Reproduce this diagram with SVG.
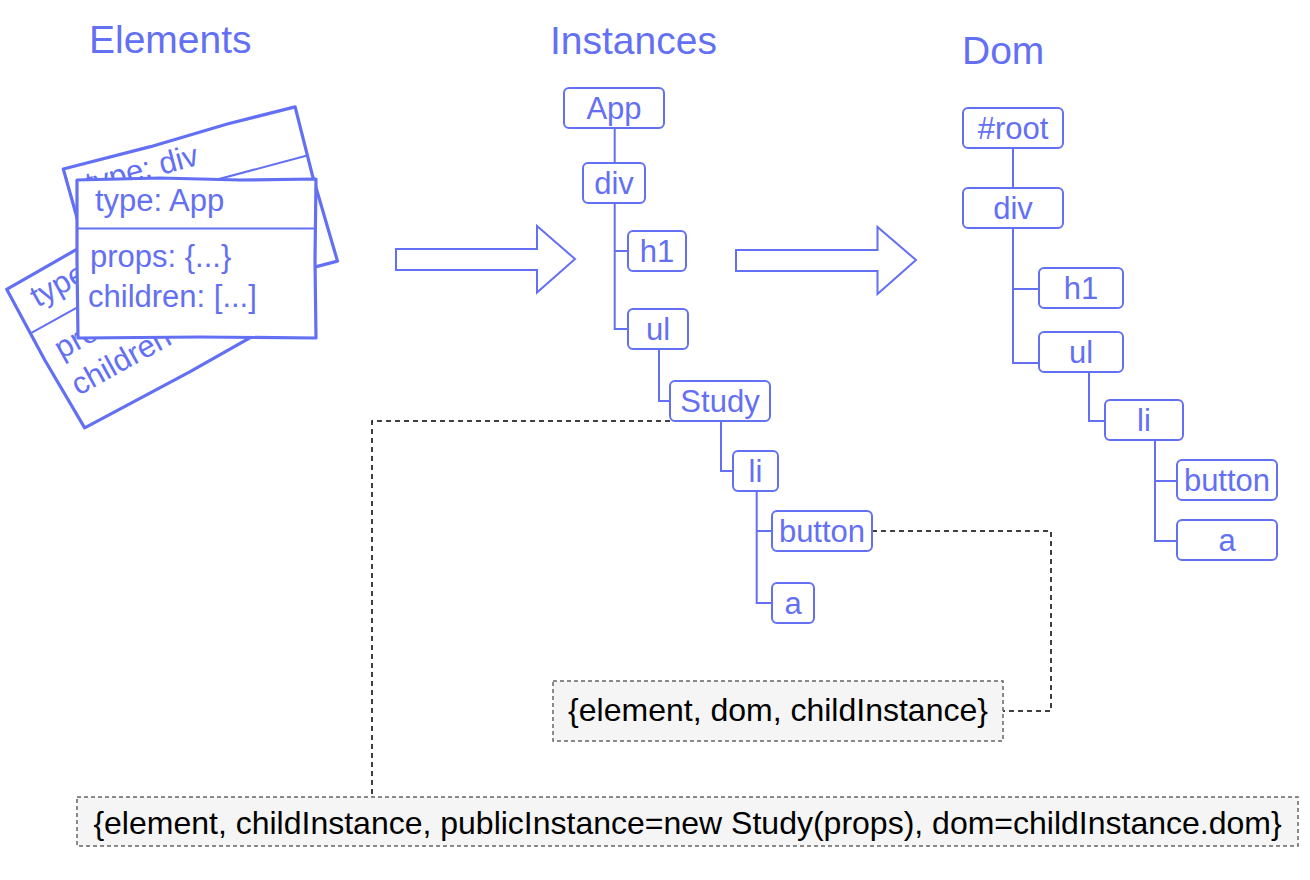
<svg xmlns="http://www.w3.org/2000/svg" width="1310" height="880" viewBox="0 0 1310 880">
<style>
.t{font-family:"Liberation Sans",Arial,Helvetica,sans-serif;fill:#6370F4}
.title{font-size:39px}
.nt{font-size:31px;text-anchor:middle}
.ct{font-size:31px}
.node{fill:#fff;stroke:#6370F4;stroke-width:2}
.tree{fill:none;stroke:#6370F4;stroke-width:2}
.card{fill:#fff;stroke:#6370F4;stroke-width:3.2;stroke-linejoin:round;stroke-linecap:round}
.cardline{fill:none;stroke:#6370F4;stroke-width:2;stroke-linecap:round}
.arrow{fill:#fff;stroke:#6370F4;stroke-width:2}
.dash{fill:none;stroke:#000;stroke-width:1.5;stroke-dasharray:5 4}
.note{fill:#f5f5f5;stroke:#666;stroke-width:1.5;stroke-dasharray:4 3}
.nl{font-family:"Liberation Sans",Arial,Helvetica,sans-serif;font-size:32px;fill:#000;text-anchor:middle}
</style>

<g id="titles">
<text class="t title" x="89" y="53">Elements</text>
<text class="t title" x="550" y="54">Instances</text>
<text class="t title" x="962" y="64">Dom</text>
</g>

<g id="card-back2" transform="translate(6.7,289.3) rotate(-29)">
<path class="card" d="M0,0 L80,-1 L160,1 L240,0 L241,80 L239,160 L120,161 L1,159 L-1,80 Z"/>
<path class="cardline" d="M0,50 L240,50"/>
<text class="t ct" x="18" y="31">type</text>
<text class="t ct" x="14" y="88">pro</text>
<text class="t ct" x="11" y="128">children</text>
</g>

<g id="card-back1" transform="translate(63.3,169) rotate(-15)">
<path class="card" d="M0,0 L90,1 L170,-1 L240,0 L239,70 L241,160 L120,159 L0,161 L1,80 Z"/>
<path class="cardline" d="M0,50 L240,50"/>
<text class="t ct" x="18" y="31">type: div</text>
</g>

<g id="card-front">
<path class="card" d="M77,180 L160,178 L240,180 L316,179 L315,260 L316,338 L200,337 L78,338 L77,260 Z"/>
<path class="cardline" d="M77,228.5 L316,228.5"/>
<text class="t ct" x="95" y="211">type: App</text>
<text class="t ct" x="90" y="267">props: {...}</text>
<text class="t ct" x="88" y="307">children: [...]</text>
</g>

<g id="arrows">
<polygon class="arrow" points="396,249 537,249 537,226 575,259 537,292.6 537,270 396,270"/>
<polygon class="arrow" points="736,250 877.5,250 877.5,227 916,260 877.5,294 877.5,271 736,271"/>
</g>

<g id="connectors">
<path class="tree" d="M614.7,128 V163"/>
<path class="tree" d="M614.7,203 V329 H628 M614.7,251 H628"/>
<path class="tree" d="M659,349 V401 H670"/>
<path class="tree" d="M721,421 V471 H733"/>
<path class="tree" d="M756.7,491 V603 H772 M756.7,531 H772"/>
<path class="tree" d="M1013,148 V188"/>
<path class="tree" d="M1013,228 V363 H1039 M1013,289 H1039"/>
<path class="tree" d="M1089,372 V421 H1105"/>
<path class="tree" d="M1155,440 V541 H1177 M1155,481 H1177"/>
<path class="dash" d="M670,421 H372 V797"/>
<path class="dash" d="M872,531 H1051 V711 H1003"/>
</g>

<g id="inst-app"><rect class="node" x="564" y="88" width="100" height="40" rx="5"/><text class="t nt" x="614" y="119">App</text></g>
<g id="inst-div"><rect class="node" x="583" y="163" width="62" height="40" rx="5"/><text class="t nt" x="614" y="194">div</text></g>
<g id="inst-h1"><rect class="node" x="628" y="231" width="58" height="40" rx="5"/><text class="t nt" x="657" y="262">h1</text></g>
<g id="inst-ul"><rect class="node" x="628" y="309" width="60" height="40" rx="5"/><text class="t nt" x="658" y="340">ul</text></g>
<g id="inst-study"><rect class="node" x="670" y="381" width="100" height="40" rx="5"/><text class="t nt" x="720" y="412">Study</text></g>
<g id="inst-li"><rect class="node" x="733" y="451" width="45" height="40" rx="5"/><text class="t nt" x="755.5" y="482">li</text></g>
<g id="inst-button"><rect class="node" x="772" y="511" width="100" height="40" rx="5"/><text class="t nt" x="822" y="542">button</text></g>
<g id="inst-a"><rect class="node" x="772" y="583" width="42" height="40" rx="5"/><text class="t nt" x="793" y="614">a</text></g>

<g id="dom-root"><rect class="node" x="963" y="108" width="100" height="40" rx="5"/><text class="t nt" x="1013" y="139">#root</text></g>
<g id="dom-div"><rect class="node" x="963" y="188" width="100" height="40" rx="5"/><text class="t nt" x="1013" y="219">div</text></g>
<g id="dom-h1"><rect class="node" x="1039" y="268" width="84" height="40" rx="5"/><text class="t nt" x="1081" y="299">h1</text></g>
<g id="dom-ul"><rect class="node" x="1039" y="332" width="84" height="40" rx="5"/><text class="t nt" x="1081" y="363">ul</text></g>
<g id="dom-li"><rect class="node" x="1105" y="400" width="78" height="40" rx="5"/><text class="t nt" x="1144" y="431">li</text></g>
<g id="dom-button"><rect class="node" x="1177" y="460" width="100" height="40" rx="5"/><text class="t nt" x="1227" y="491">button</text></g>
<g id="dom-a"><rect class="node" x="1177" y="520" width="100" height="40" rx="5"/><text class="t nt" x="1227" y="551">a</text></g>

<g id="note-button"><rect class="note" x="553" y="681" width="450" height="60"/><text class="nl" x="778" y="721">{element, dom, childInstance}</text></g>
<g id="note-study"><rect class="note" x="77" y="797" width="1221" height="49"/><text class="nl" x="687.5" y="834">{element, childInstance, publicInstance=new Study(props), dom=childInstance.dom}</text></g>
</svg>
